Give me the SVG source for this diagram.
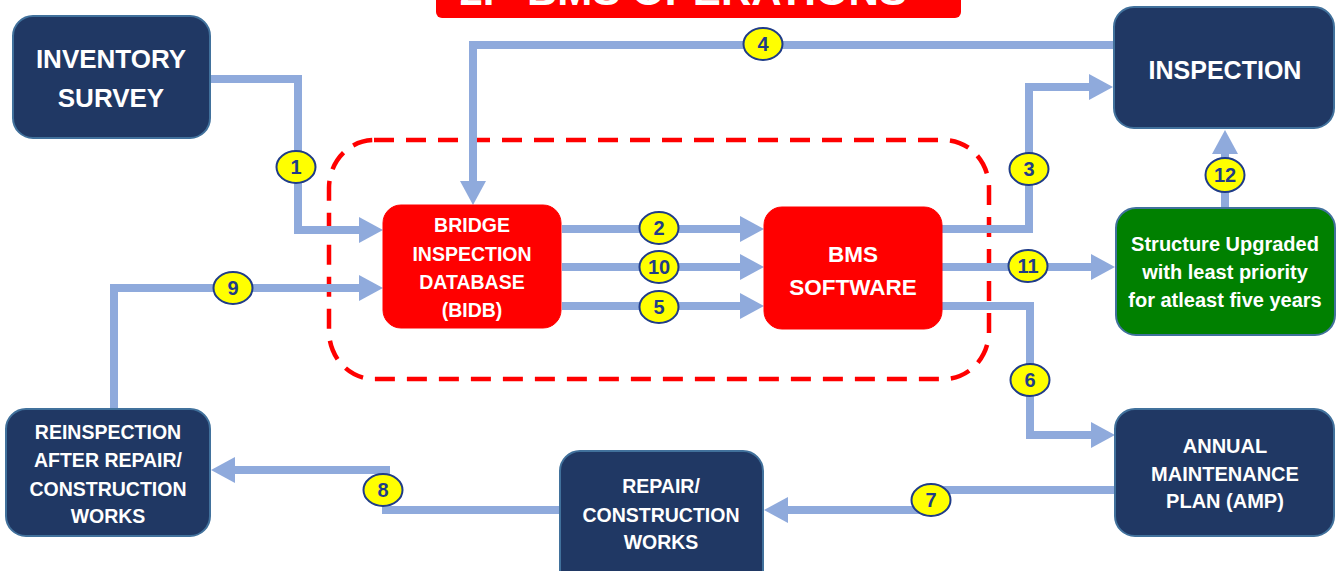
<svg xmlns="http://www.w3.org/2000/svg" width="1336" height="571" viewBox="0 0 1336 571">
<style>
.navy{fill:#203864;stroke:#41719C;stroke-width:2}
.red{fill:#FF0000;stroke:#FF0000;stroke-width:1}
.green{fill:#008000;stroke:#41719C;stroke-width:2}
.t{font-family:"Liberation Sans",Arial,sans-serif;font-weight:bold;fill:#FFFFFF;text-anchor:middle}
.c{fill:none;stroke:#8FAADC;stroke-width:8;stroke-linejoin:miter}
.ca{fill:none;stroke:#8FAADC;stroke-width:8;stroke-linejoin:miter;marker-end:url(#ah)}
.b{fill:#FFFF00;stroke:#1F3C88;stroke-width:2}
.bt{font-family:"Liberation Sans",Arial,sans-serif;font-weight:bold;font-size:20px;fill:#1F3C88;text-anchor:middle}
</style>
<defs>
<marker id="ah" viewBox="0 0 24 26" refX="0" refY="13" markerWidth="24" markerHeight="26" markerUnits="userSpaceOnUse" orient="auto">
<path d="M0,0 L24,13 L0,26 z" fill="#8FAADC"/>
</marker>
</defs>
<rect width="1336" height="571" fill="#FFFFFF"/>

<g id="title">
<rect x="436" y="-20" width="525" height="38" rx="6" fill="#FF0000"/>
<text class="t" x="477" y="5" font-size="42" text-anchor="middle">2.</text>
<text class="t" x="717" y="5" font-size="42" textLength="380" lengthAdjust="spacingAndGlyphs">BMS OPERATIONS</text>
</g>

<g id="boundary">
<rect x="329" y="140" width="660" height="239" rx="45" ry="48" fill="none" stroke="#FF0000" stroke-width="4.5" stroke-dasharray="20 12"/>
</g>

<g id="connectors">
<path class="ca" d="M210,79 H298 V230 H359"/>
<path class="ca" d="M562,229 H740"/>
<path class="ca" d="M562,267 H740"/>
<path class="ca" d="M562,306 H740"/>
<path class="ca" d="M1113,45 H473 V181"/>
<path class="ca" d="M942,229 H1029 V87 H1089"/>
<path class="ca" d="M942,267 H1091"/>
<path class="ca" d="M942,306 H1030 V435 H1091"/>
<path class="ca" d="M1114,490 H933 V510 H788"/>
<path class="ca" d="M560,510 H386 V470 H235"/>
<path class="ca" d="M114,409 V288 H359"/>
<path class="ca" d="M1225,208 V154"/>
</g>

<g id="badges">
<g id="b1"><ellipse class="b" cx="296" cy="167" rx="19.5" ry="16"/><text class="bt" x="296" y="174">1</text></g>
<g id="b2"><ellipse class="b" cx="659" cy="228" rx="19.5" ry="16"/><text class="bt" x="659" y="235">2</text></g>
<g id="b3"><ellipse class="b" cx="1029" cy="169" rx="19.5" ry="16"/><text class="bt" x="1029" y="176">3</text></g>
<g id="b4"><ellipse class="b" cx="763" cy="44" rx="19.5" ry="16"/><text class="bt" x="763" y="51">4</text></g>
<g id="b5"><ellipse class="b" cx="659" cy="307" rx="19.5" ry="16"/><text class="bt" x="659" y="314">5</text></g>
<g id="b6"><ellipse class="b" cx="1030" cy="380" rx="19.5" ry="16"/><text class="bt" x="1030" y="387">6</text></g>
<g id="b7"><ellipse class="b" cx="931" cy="500" rx="19.5" ry="16"/><text class="bt" x="931" y="507">7</text></g>
<g id="b8"><ellipse class="b" cx="383" cy="490" rx="19.5" ry="16"/><text class="bt" x="383" y="497">8</text></g>
<g id="b9"><ellipse class="b" cx="233" cy="288" rx="19.5" ry="16"/><text class="bt" x="233" y="295">9</text></g>
<g id="b10"><ellipse class="b" cx="659" cy="267" rx="19.5" ry="16"/><text class="bt" x="659" y="274">10</text></g>
<g id="b11"><ellipse class="b" cx="1028" cy="266" rx="19.5" ry="16"/><text class="bt" x="1028" y="273">11</text></g>
<g id="b12"><ellipse class="b" cx="1225" cy="175" rx="19.5" ry="17"/><text class="bt" x="1225" y="182">12</text></g>
</g>

<g id="inventory">
<rect class="navy" x="13" y="16" width="197" height="122" rx="20"/>
<text class="t" x="111" y="68" font-size="26">INVENTORY</text>
<text class="t" x="111" y="107" font-size="26">SURVEY</text>
</g>

<g id="inspection">
<rect class="navy" x="1114" y="7" width="220" height="121" rx="20"/>
<text class="t" x="1225" y="79" font-size="25">INSPECTION</text>
</g>

<g id="bidb">
<rect class="red" x="383" y="205" width="178" height="123" rx="18"/>
<text class="t" x="472" y="232" font-size="19.5">BRIDGE</text>
<text class="t" x="472" y="261" font-size="19.5">INSPECTION</text>
<text class="t" x="472" y="289" font-size="19.5">DATABASE</text>
<text class="t" x="472" y="317" font-size="19.5">(BIDB)</text>
</g>

<g id="bms">
<rect class="red" x="764" y="207" width="178" height="122" rx="18"/>
<text class="t" x="853" y="262" font-size="22.5">BMS</text>
<text class="t" x="853" y="295" font-size="22.5">SOFTWARE</text>
</g>

<g id="upgraded">
<rect class="green" x="1116" y="208" width="219" height="127" rx="20"/>
<text class="t" x="1225" y="251" font-size="20">Structure Upgraded</text>
<text class="t" x="1225" y="279" font-size="20">with least priority</text>
<text class="t" x="1225" y="307" font-size="20">for atleast five years</text>
</g>

<g id="reinspection">
<rect class="navy" x="6" y="409" width="204" height="127" rx="20"/>
<text class="t" x="108" y="439" font-size="19.5">REINSPECTION</text>
<text class="t" x="108" y="467" font-size="19.5">AFTER REPAIR/</text>
<text class="t" x="108" y="496" font-size="19.5">CONSTRUCTION</text>
<text class="t" x="108" y="523" font-size="19.5">WORKS</text>
</g>

<g id="repair">
<rect class="navy" x="560" y="451" width="203" height="140" rx="20"/>
<text class="t" x="661" y="493" font-size="19.5">REPAIR/</text>
<text class="t" x="661" y="522" font-size="19.5">CONSTRUCTION</text>
<text class="t" x="661" y="549" font-size="19.5">WORKS</text>
</g>

<g id="amp">
<rect class="navy" x="1115" y="409" width="219" height="127" rx="20"/>
<text class="t" x="1225" y="453" font-size="20">ANNUAL</text>
<text class="t" x="1225" y="481" font-size="20">MAINTENANCE</text>
<text class="t" x="1225" y="508" font-size="20">PLAN (AMP)</text>
</g>
</svg>
